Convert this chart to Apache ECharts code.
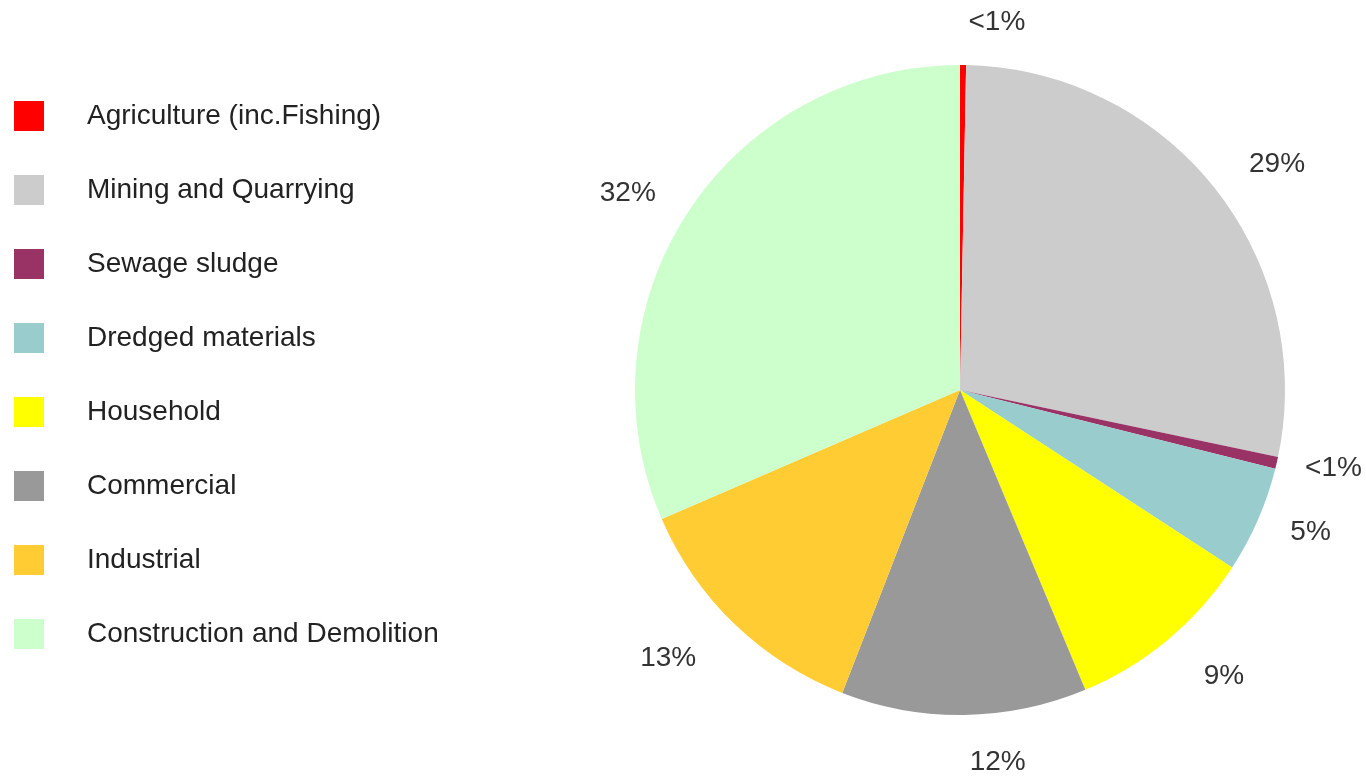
<!DOCTYPE html>
<html>
<head>
<meta charset="utf-8">
<script src="https://cdn.jsdelivr.net/npm/echarts@6/dist/echarts.min.js"></script>
<style>html,body{margin:0;padding:0;background:#fff}#c{width:1366px;height:778px}</style>
</head>
<body>
<div id="c"></div>
<script>
const categories = ['Agriculture (inc.Fishing)','Mining and Quarrying','Sewage sludge','Dredged materials','Household','Commercial','Industrial','Construction and Demolition'];
const values = [0.3, 28.0, 0.6, 5.3, 9.5, 12.2, 12.6, 31.5];
const labels = ['<1%','29%','<1%','5%','9%','12%','13%','32%'];
const colors = ['#ff0000','#cccccc','#993366','#99cccc','#ffff00','#999999','#ffcc33','#ccffcc'];
// label offset (style only): distance of each percentage label from the rim
const labelGaps = [43, 38, 24, 30, 48, 47, 48, 33];

const FONT = 'Liberation Sans, Arial, Helvetica, sans-serif';
const chart = echarts.init(document.getElementById('c'), null, {renderer:'canvas'});
chart.setOption({
  backgroundColor:'#ffffff',
  animation:false,
  color: colors,
  legend:{
    orient:'vertical', left:14, top:101, padding:0,
    itemWidth:30, itemHeight:30, itemGap:44,
    icon:'rect',
    data: categories,
    textStyle:{fontFamily:FONT, fontSize:28, lineHeight:30, color:'#222', padding:[0,0,0,38]}
  },
  series:[{
    type:'pie',
    center:[960,390], radius:325,
    startAngle:90, clockwise:true,
    avoidLabelOverlap:false,
    label:{
      show:true, position:'outside',
      fontFamily:FONT, fontSize:28, color:'#333',
      formatter: p => labels[p.dataIndex]
    },
    labelLine:{show:false, length:30, length2:0},
    itemStyle:{borderWidth:0},
    emphasis:{disabled:true},
    data: categories.map((c,i)=>({name:c, value:values[i], labelLine:{show:false, length:labelGaps[i], length2:0}}))
  }]
});
</script>
</body>
</html>
